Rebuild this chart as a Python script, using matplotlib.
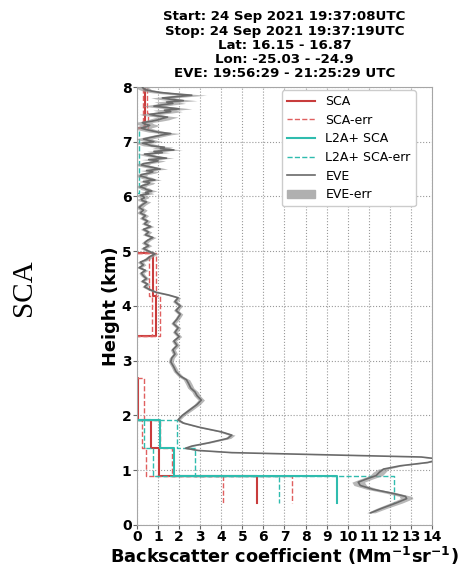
#!/usr/bin/env python3
"""Backscatter profile: Aeolus SCA / L2A+ SCA bins against the EVE lidar profile."""

import matplotlib

matplotlib.use("Agg")
import matplotlib.pyplot as plt
import numpy as np
from matplotlib.lines import Line2D
from matplotlib.patches import Patch

TITLE_LINES = [
    "Start: 24 Sep 2021 19:37:08UTC",
    "Stop: 24 Sep 2021 19:37:19UTC",
    "Lat: 16.15 - 16.87",
    "Lon: -25.03 - -24.9",
    "EVE: 19:56:29 - 21:25:29 UTC",
]

# SCA bins (km), top to bottom; nan = no retrieval in that layer
sca_top = [7.98, 7.52, 7.26, 4.96, 4.19, 3.46, 2.68, 1.91, 1.41, 0.90]
sca_bottom = [7.52, 7.26, 4.96, 4.19, 3.46, 2.68, 1.91, 1.41, 0.90, 0.40]
sca_value = [0.38, 0.40, np.nan, 0.74, 0.90, np.nan, 0.06, 0.65, 1.06, 5.71]
sca_err = [0.11, 0.10, np.nan, 0.16, 0.21, np.nan, 0.27, 0.43, 0.62, 1.65]

# L2A+ SCA bins
l2a_top = [7.20, 6.06, 1.91, 1.41, 0.90]
l2a_bottom = [6.06, 1.91, 1.41, 0.90, 0.40]
l2a_value = [0.0, np.nan, 1.10, 1.75, 9.47]
l2a_err = [0.07, np.nan, 0.78, 1.00, 2.73]

# EVE profile (height km, backscatter, error)
eve_height = [
    0.22, 0.30, 0.40, 0.48, 0.52, 0.58, 0.65, 0.72, 0.78, 0.84,
    0.90, 0.96, 1.02, 1.08, 1.14, 1.20, 1.24, 1.28, 1.32, 1.36,
    1.40, 1.44, 1.50, 1.58, 1.64, 1.70, 1.78, 1.86, 1.92, 2.00,
    2.10, 2.20, 2.28, 2.36, 2.43, 2.50, 2.58, 2.65, 2.72, 2.80,
    2.88, 2.98, 3.05, 3.12, 3.20, 3.28, 3.36, 3.44, 3.52, 3.60,
    3.68, 3.76, 3.85, 3.92, 4.00, 4.08, 4.15, 4.20, 4.25,
    4.30, 4.35, 4.40, 4.45, 4.50, 4.55, 4.60, 4.65, 4.70, 4.75,
    4.80, 4.85, 4.90, 4.95, 5.00, 5.05, 5.10, 5.15, 5.20, 5.25,
    5.30, 5.35, 5.40, 5.45, 5.50, 5.55, 5.60, 5.65, 5.70, 5.75,
    5.80, 5.85,
    5.900, 5.925, 5.950, 5.975, 6.000, 6.025, 6.050, 6.075, 6.100, 6.125,
    6.150, 6.175, 6.200, 6.225, 6.250, 6.275, 6.300, 6.325, 6.350, 6.375,
    6.400, 6.425, 6.450, 6.475, 6.500, 6.525, 6.550, 6.575, 6.600, 6.625,
    6.650, 6.675, 6.700, 6.725, 6.750, 6.775, 6.800, 6.825, 6.850, 6.875,
    6.900, 6.925, 6.950, 6.975, 7.000, 7.025, 7.050, 7.075, 7.100, 7.125,
    7.150, 7.175, 7.200, 7.225, 7.250, 7.275, 7.300, 7.325, 7.350, 7.375,
    7.400, 7.425, 7.450, 7.475, 7.500, 7.525, 7.550, 7.575, 7.600, 7.625,
    7.650, 7.675, 7.700, 7.725, 7.750, 7.775, 7.800, 7.825, 7.850, 7.875,
    7.900, 7.925, 7.950, 7.975, 8.000,
]
eve_value = [
    11.10, 11.60, 12.30, 12.80, 12.75, 12.10, 11.20, 10.60, 10.50, 10.90,
    11.35, 11.50, 11.70, 12.50, 13.80, 14.40, 13.50, 9.00, 4.50, 2.90,
    2.30, 2.60, 3.40, 4.30, 4.50, 4.00, 3.00, 2.20, 1.95, 2.15,
    2.50, 2.85, 3.05, 2.85, 2.75, 2.55, 2.45, 2.35, 2.05, 1.85,
    1.75, 1.60, 1.65, 1.80, 1.70, 1.90, 1.75, 2.00, 1.80, 1.95,
    1.72, 1.90, 2.05, 1.85, 2.05, 1.80, 1.95, 1.50, 0.90,
    0.60, 0.35, 0.50, 0.25, 0.45, 0.30, 0.20, 0.40, 0.10, 0.30,
    0.15, 0.45, 0.60, 0.85, 0.55, 0.30, 0.55, 0.35, 0.50, 0.75,
    0.40, 0.55, 0.30, 0.65, 0.35, 0.50, 0.25, 0.40, 0.15, 0.30,
    0.10, 0.25,
    0.45, 0.25, 0.20, 0.35, 0.30, 0.15, 0.55, 0.40, 0.70, 0.45,
    0.35, 0.15, 0.25, 0.50, 0.60, 0.30, 0.85, 0.55, 0.40, 0.15,
    0.20, 0.55, 0.75, 0.45, 1.10, 0.80, 0.50, 0.20, 0.30, 0.70,
    1.00, 0.55, 1.40, 0.90, 0.60, 0.35, 1.20, 0.80, 1.75, 1.10,
    1.30, 0.70, 0.50, 0.25, 0.80, 0.55, 0.30, 0.60, 0.90, 1.20,
    1.60, 1.00, 0.70, 0.40, 0.20, 0.45, 0.60, 0.35, 0.25, 0.70,
    1.00, 1.20, 1.45, 0.90, 0.60, 1.10, 1.60, 1.30, 2.00, 1.40,
    0.80, 1.20, 1.70, 1.40, 2.20, 1.60, 1.20, 1.90, 2.60, 1.80,
    1.10, 0.70, 0.40, 0.30, 0.25,
]
eve_err = [
    0.20, 0.25, 0.30, 0.30, 0.30, 0.30, 0.30, 0.30, 0.30, 0.30,
    0.30, 0.30, 0.25, 0.10, 0.10, 0.10, 0.08, 0.08, 0.10, 0.10,
    0.10, 0.10, 0.12, 0.15, 0.15, 0.12, 0.10, 0.10, 0.10, 0.12,
    0.15, 0.15, 0.15, 0.15, 0.15, 0.15, 0.15, 0.15, 0.12, 0.12,
    0.12, 0.12, 0.12, 0.12, 0.12, 0.12, 0.12, 0.12, 0.12, 0.12,
    0.12, 0.12, 0.12, 0.12, 0.12, 0.12, 0.12, 0.12, 0.12,
    0.12, 0.12, 0.12, 0.12, 0.12, 0.12, 0.12, 0.12, 0.12, 0.12,
    0.15, 0.15, 0.15, 0.15, 0.15, 0.15, 0.15, 0.15, 0.15, 0.15,
    0.15, 0.15, 0.15, 0.15, 0.15, 0.15, 0.15, 0.15, 0.18, 0.18,
    0.18, 0.18,
    0.20, 0.20, 0.20, 0.20, 0.25, 0.25, 0.25, 0.25, 0.25, 0.25,
    0.25, 0.25, 0.25, 0.25, 0.25, 0.25, 0.30, 0.30, 0.30, 0.30,
    0.30, 0.30, 0.30, 0.30, 0.35, 0.35, 0.35, 0.35, 0.35, 0.35,
    0.35, 0.35, 0.35, 0.35, 0.35, 0.35, 0.35, 0.35, 0.40, 0.40,
    0.40, 0.40, 0.40, 0.40, 0.40, 0.40, 0.40, 0.40, 0.40, 0.40,
    0.45, 0.45, 0.45, 0.45, 0.45, 0.45, 0.45, 0.45, 0.45, 0.45,
    0.50, 0.50, 0.50, 0.50, 0.50, 0.55, 0.55, 0.55, 0.60, 0.60,
    0.55, 0.55, 0.60, 0.60, 0.65, 0.60, 0.55, 0.60, 0.70, 0.60,
    0.50, 0.40, 0.30, 0.30, 0.25,
]

RED = "#c83c3c"
RED_ERR = "#e06060"
TEAL = "#2fbcae"
GREY = "#6a6a6a"


def step_profile(tops, bottoms, values):
    """Vertical segment per bin, horizontal joins between bins; empty layers drop to 0."""
    xs, ys = [], []
    for top, bottom, val in zip(tops, bottoms, values):
        if np.isnan(val):
            xs.extend([0.0, np.nan, 0.0])
            ys.extend([top, np.nan, bottom])
        else:
            xs.extend([val, val])
            ys.extend([top, bottom])
    return np.array(xs), np.array(ys)


def draw_bins(ax, tops, bottoms, values, errors, color, err_color):
    val = np.array(values)
    err = np.array(errors)
    x, y = step_profile(tops, bottoms, val)
    ax.plot(x, y, color=color, lw=1.5, zorder=2)
    for sign in (-1, 1):
        x, y = step_profile(tops, bottoms, val + sign * err)
        ax.plot(x, y, color=err_color, lw=1.0, ls="--", zorder=2)


def main():
    assert len(eve_height) == len(eve_value) == len(eve_err)

    fig = plt.figure(figsize=(4.71, 5.65), dpi=100)
    ax = fig.add_axes([0.291, 0.071, 0.626, 0.775])

    draw_bins(ax, sca_top, sca_bottom, sca_value, sca_err, RED, RED_ERR)
    draw_bins(ax, l2a_top, l2a_bottom, l2a_value, l2a_err, TEAL, TEAL)

    h = np.array(eve_height)
    v = np.array(eve_value)
    e = np.array(eve_err)
    ax.fill_betweenx(h, v - e, v + e, color="#9a9a9a", alpha=0.7, lw=0, zorder=4)
    ax.plot(v, h, color=GREY, lw=1.2, zorder=5)

    ax.set_xlim(0, 14)
    ax.set_ylim(0, 8)
    ax.set_xticks(range(0, 15))
    ax.set_yticks(range(0, 9))
    ax.grid(True, ls=":", color="0.6", lw=0.8)
    for sp in ax.spines.values():
        sp.set_color("0.65")
    ax.tick_params(labelsize=10, pad=1, length=3, color="0.4")
    for lab in ax.get_xticklabels() + ax.get_yticklabels():
        lab.set_fontweight("bold")

    ax.set_xlabel(
        r"Backscatter coefficient (Mm$^{\mathbf{-1}}$sr$^{\mathbf{-1}}$)",
        fontsize=12.8, fontweight="bold", labelpad=0,
    )
    ax.set_ylabel("Height (km)", fontsize=12.8, fontweight="bold", labelpad=1)
    ax.set_title("\n".join(TITLE_LINES), fontsize=9.6, fontweight="bold",
                 linespacing=1.12, pad=7)

    handles = [
        Line2D([], [], color=RED, lw=1.5),
        Line2D([], [], color=RED_ERR, lw=1.0, ls="--"),
        Line2D([], [], color=TEAL, lw=1.5),
        Line2D([], [], color=TEAL, lw=1.0, ls="--"),
        Line2D([], [], color=GREY, lw=1.2),
        Patch(color="#b0b0b0"),
    ]
    labels = ["SCA", "SCA-err", "L2A+ SCA", "L2A+ SCA-err", "EVE", "EVE-err"]
    ax.legend(handles, labels, loc="upper right", bbox_to_anchor=(0.955, 1.0),
              fontsize=9, handlelength=2.3, labelspacing=0.45,
              borderaxespad=0.25, framealpha=1.0)

    fig.text(0.05, 0.49, "SCA", rotation=90, fontsize=21,
             family="Liberation Serif", ha="center", va="center")

    fig.savefig("out.png", dpi=100)


if __name__ == "__main__":
    main()
